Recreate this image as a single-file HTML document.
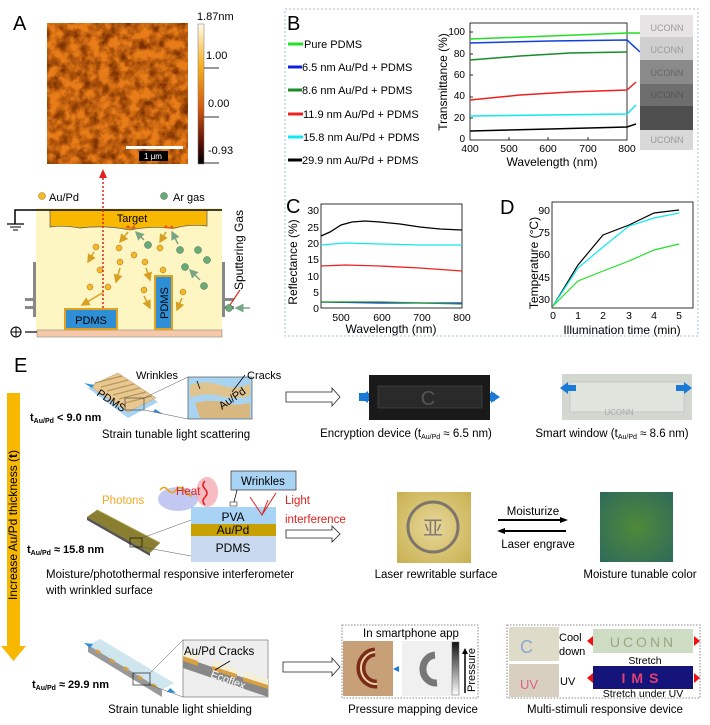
<!DOCTYPE html>
<html><head><meta charset="utf-8"><style>
html,body{margin:0;padding:0;background:#fff}
svg{display:block;font-family:"Liberation Sans",Arial,sans-serif}
</style></head><body>
<svg width="710" height="725" viewBox="0 0 710 725" xmlns="http://www.w3.org/2000/svg">
<defs>
<filter id="afm" x="0" y="0" width="100%" height="100%">
<feTurbulence type="fractalNoise" baseFrequency="0.1" numOctaves="3" seed="4"/>
<feColorMatrix type="matrix" values="0 0 0 0 0.2  0 0 0 0 0.03  0 0 0 0 0  2.2 0 0 0 -0.75"/>
</filter>
<linearGradient id="cb" x1="0" y1="0" x2="0" y2="1">
<stop offset="0" stop-color="#fffbe8"/><stop offset="0.3" stop-color="#f7b020"/><stop offset="0.6" stop-color="#d25a10"/><stop offset="0.85" stop-color="#5a1005"/><stop offset="1" stop-color="#000"/></linearGradient>
<linearGradient id="pb" x1="0" y1="0" x2="0" y2="1"><stop offset="0" stop-color="#111"/><stop offset="1" stop-color="#fff"/></linearGradient>
<radialGradient id="mo" cx="0.5" cy="0.5" r="0.7"><stop offset="0" stop-color="#4f8a3a"/><stop offset="1" stop-color="#2f6a5a"/></radialGradient>
<radialGradient id="lz" cx="0.5" cy="0.5" r="0.7"><stop offset="0" stop-color="#e8d79a"/><stop offset="1" stop-color="#c8b050"/></radialGradient>
<marker id="ah" markerWidth="6" markerHeight="6" refX="5" refY="3" orient="auto"><path d="M0,0L6,3L0,6z" fill="context-stroke"/></marker>
</defs>

<!-- Panel A -->
<text x="13" y="30" font-size="20">A</text>
<rect x="47" y="23" width="141" height="141" fill="#e87c18"/>
<rect x="47" y="23" width="141" height="141" filter="url(#afm)"/>
<rect x="126" y="146" width="57" height="3" fill="#fff"/>
<rect x="139" y="151" width="29" height="10" fill="#000"/>
<text x="153" y="159" font-size="8" fill="#fff" text-anchor="middle">1 μm</text>
<rect x="198" y="24" width="6" height="140" fill="url(#cb)" stroke="#777" stroke-width="0.5"/>
<g stroke="#333" stroke-width="1"><line x1="204" y1="68" x2="219" y2="68"/><line x1="204" y1="117" x2="219" y2="117"/><line x1="204" y1="163" x2="219" y2="163"/></g>
<text x="197" y="20" font-size="11">1.87nm</text>
<text x="206" y="59" font-size="11">1.00</text>
<text x="208" y="107" font-size="11">0.00</text>
<text x="208" y="154" font-size="11">-0.93</text>

<!-- Sputter -->
<rect x="36" y="208" width="186" height="122" fill="#fdf5c2"/>
<rect x="37" y="330" width="185" height="7" fill="#f7c8a8" stroke="#777" stroke-width="0.5"/>
<path d="M50,210H207V226Q190,224 175,228Q150,226 130,230Q105,225 80,228Q62,225 50,227Z" fill="#f9b800" stroke="#555" stroke-width="0.7"/>
<text x="132" y="222" font-size="11" text-anchor="middle">Target</text>
<polyline points="15,224 15,210 222,210" fill="none" stroke="#000" stroke-width="1.5"/>
<line x1="7" y1="224" x2="24" y2="224" stroke="#000" stroke-width="1.2"/><line x1="10" y1="227" x2="21" y2="227" stroke="#000"/><line x1="13" y1="230" x2="18" y2="230" stroke="#000"/>
<line x1="25" y1="332" x2="37" y2="332" stroke="#000" stroke-width="1.2"/>
<circle cx="16" cy="332" r="5" fill="#fff" stroke="#000"/><path d="M11,332h10M16,327v10" stroke="#000"/>
<g fill="#888"><rect x="33" y="262" width="3" height="55"/><rect x="222" y="262" width="3" height="55"/><rect x="25" y="298" width="10" height="3"/><rect x="25" y="306" width="10" height="3"/><rect x="222" y="298" width="12" height="3"/><rect x="222" y="306" width="12" height="3"/></g>
<circle cx="42" cy="196" r="3.5" fill="#f5b82a" stroke="#a07010" stroke-width="0.5"/><text x="49" y="201" font-size="11">Au/Pd</text>
<circle cx="164" cy="196" r="3.5" fill="#6aaa7a" stroke="#3a6a4a" stroke-width="0.5"/><text x="173" y="201" font-size="11">Ar gas</text>
<g fill="#f5b82a" stroke="#a07010" stroke-width="0.5">
<circle cx="96" cy="247" r="3"/><circle cx="119" cy="248" r="3"/><circle cx="134" cy="255" r="3"/><circle cx="160" cy="248" r="3"/><circle cx="100" cy="270" r="3"/><circle cx="120" cy="262" r="3"/><circle cx="145" cy="262" r="3"/><circle cx="163" cy="270" r="3"/><circle cx="90" cy="287" r="3"/><circle cx="108" cy="287" r="3"/><circle cx="144" cy="290" r="3"/><circle cx="183" cy="292" r="3"/></g>
<g fill="#6aaa7a" stroke="#3a6a4a" stroke-width="0.5">
<circle cx="148" cy="245" r="3.5"/><circle cx="180" cy="250" r="3.5"/><circle cx="198" cy="250" r="3.5"/><circle cx="185" cy="267" r="3.5"/><circle cx="207" cy="260" r="3.5"/><circle cx="204" cy="286" r="3.5"/><circle cx="229" cy="308" r="3.5"/></g>
<g stroke="#d8a020" stroke-width="1.5" marker-end="url(#ah)"><line x1="128" y1="232" x2="120" y2="242"/><line x1="166" y1="232" x2="160" y2="242"/><line x1="94" y1="252" x2="88" y2="262"/><line x1="120" y1="268" x2="116" y2="282"/><line x1="104" y1="292" x2="82" y2="305"/><line x1="146" y1="268" x2="150" y2="280"/><line x1="144" y1="296" x2="150" y2="308"/><line x1="182" y1="298" x2="177" y2="310"/></g>
<g stroke="#7aa585" stroke-width="1.5" marker-end="url(#ah)"><line x1="144" y1="240" x2="136" y2="232"/><line x1="178" y1="244" x2="172" y2="232"/><line x1="200" y1="280" x2="190" y2="270"/><line x1="250" y1="308" x2="236" y2="308"/></g>
<g fill="#e05a20"><path d="M125,228l3,-3 3,3 3,-3 2,4z"/><path d="M163,228l3,-3 3,3 3,-3 2,4z"/></g>
<rect x="65" y="309" width="52" height="20" fill="#2e8fd6" stroke="#e0a020" stroke-width="2"/>
<text x="91" y="324" font-size="11" text-anchor="middle">PDMS</text>
<rect x="155" y="276" width="17" height="53" fill="#2e8fd6" stroke="#e0a020" stroke-width="2"/>
<text transform="translate(168,303) rotate(-90)" font-size="11" text-anchor="middle">PDMS</text>
<line x1="103" y1="308" x2="103" y2="176" stroke="#e02020" stroke-width="1.5" stroke-dasharray="2,2"/>
<path d="M99,178L103,169L107,178z" fill="#e02020"/>
<text transform="translate(243,250) rotate(-90)" font-size="12" text-anchor="middle">Sputtering Gas</text>
<line x1="240" y1="290" x2="230" y2="305" stroke="#e03020" stroke-width="1.2"/>

<!-- Panel B/C/D border -->
<rect x="285" y="9" width="413" height="327" fill="none" stroke="#8ab0d0" stroke-width="0.8" stroke-dasharray="2,2"/>
<text x="287" y="30" font-size="20">B</text>
<g stroke-width="3" font-size="11">
<line x1="288" y1="44" x2="303" y2="44" stroke="#22e022"/><text x="304" y="48">Pure PDMS</text>
<line x1="288" y1="67" x2="302" y2="67" stroke="#1020e0"/><text x="302" y="71">6.5 nm Au/Pd + PDMS</text>
<line x1="288" y1="90" x2="302" y2="90" stroke="#1a8a2a"/><text x="302" y="94">8.6 nm Au/Pd + PDMS</text>
<line x1="288" y1="114" x2="303" y2="114" stroke="#f02020"/><text x="303" y="118">11.9 nm Au/Pd + PDMS</text>
<line x1="288" y1="137" x2="303" y2="137" stroke="#10e8f0"/><text x="303" y="141">15.8 nm Au/Pd + PDMS</text>
<line x1="288" y1="160" x2="302" y2="160" stroke="#000"/><text x="302" y="164">29.9 nm Au/Pd + PDMS</text>
</g>
<!-- B plot -->
<rect x="470" y="23" width="157" height="117" fill="none" stroke="#000" stroke-width="0.8"/>
<g font-size="10" text-anchor="end">
<text x="465" y="142">0</text><text x="465" y="121">20</text><text x="465" y="99">40</text><text x="465" y="78">60</text><text x="465" y="57">80</text><text x="465" y="35">100</text></g>
<g stroke="#000" stroke-width="0.8"><line x1="470" y1="118" x2="473" y2="118"/><line x1="470" y1="97" x2="473" y2="97"/><line x1="470" y1="75" x2="473" y2="75"/><line x1="470" y1="54" x2="473" y2="54"/><line x1="470" y1="32" x2="473" y2="32"/>
<line x1="509" y1="140" x2="509" y2="137"/><line x1="548" y1="140" x2="548" y2="137"/><line x1="588" y1="140" x2="588" y2="137"/></g>
<g font-size="10.5" text-anchor="middle"><text x="470" y="152">400</text><text x="509" y="152">500</text><text x="548" y="152">600</text><text x="588" y="152">700</text><text x="627" y="152">800</text></g>
<text x="552" y="166" font-size="12" text-anchor="middle">Wavelength (nm)</text>
<text transform="translate(447,82) rotate(-90)" font-size="12" text-anchor="middle">Transmittance (%)</text>
<g fill="none" stroke-width="1.5">
<polyline points="470,39 550,36 627,33 640,33" stroke="#22e022"/>
<polyline points="470,43 550,41 627,40 640,52" stroke="#1040e0"/>
<polyline points="470,60 520,56 570,53 627,52" stroke="#1a8a2a"/>
<polyline points="470,100 520,95 570,92 627,90 636,82" stroke="#f02020"/>
<polyline points="470,116 627,114 636,105" stroke="#10e8f0"/>
<polyline points="470,131 550,129 627,127 636,124" stroke="#000"/>
</g>
<rect x="640" y="15" width="53" height="22" fill="#e8e4e6"/><rect x="640" y="37" width="53" height="23" fill="#cfcfcf"/><rect x="640" y="60" width="53" height="24" fill="#8a8a8a"/><rect x="640" y="84" width="53" height="22" fill="#6e6e6e"/><rect x="640" y="106" width="53" height="24" fill="#4e4e4e"/><rect x="640" y="130" width="53" height="20" fill="#d8d8d8"/>
<g font-size="9" fill="#999" text-anchor="middle"><text x="667" y="31">UCONN</text><text x="667" y="53">UCONN</text><text x="667" y="76" fill="#666">UCONN</text><text x="667" y="98" fill="#555">UCONN</text><text x="667" y="143">UCONN</text></g>

<!-- C -->
<text x="286" y="213" font-size="20">C</text>
<rect x="321" y="204" width="141" height="104" fill="none" stroke="#000" stroke-width="0.8"/>
<g font-size="10.5" text-anchor="end"><text x="319" y="312">0</text><text x="319" y="296">5</text><text x="319" y="280">10</text><text x="319" y="263">15</text><text x="319" y="247">20</text><text x="319" y="231">25</text><text x="319" y="214">30</text></g>
<g font-size="10.5" text-anchor="middle"><text x="341" y="321">500</text><text x="382" y="321">600</text><text x="422" y="321">700</text><text x="462" y="321">800</text></g>
<text x="391" y="333" font-size="12" text-anchor="middle">Wavelength (nm)</text>
<text transform="translate(297,262) rotate(-90)" font-size="12" text-anchor="middle">Reflectance (%)</text>
<g fill="none" stroke-width="1.3">
<polyline points="321,236 330,232 341,225 352,222 365,221 380,222 400,224 420,227 440,229 462,230" stroke="#000"/>
<polyline points="321,245 345,243 380,244 420,245 462,245" stroke="#10e8f0"/>
<polyline points="321,266 345,265 380,266 420,268 462,271" stroke="#f02020"/>
<polyline points="321,302 380,303 462,303" stroke="#1020e0"/>
<polyline points="321,302 380,302 462,304" stroke="#1a9a2a"/>
</g>

<!-- D -->
<text x="500" y="214" font-size="20">D</text>
<rect x="552" y="202" width="141" height="106" fill="none" stroke="#000" stroke-width="0.8"/>
<g font-size="10.5" text-anchor="end"><text x="550" y="303">30</text><text x="550" y="281">45</text><text x="550" y="258">60</text><text x="550" y="236">75</text><text x="550" y="214">90</text></g>
<g font-size="10.5" text-anchor="middle"><text x="553" y="319">0</text><text x="578" y="319">1</text><text x="603" y="319">2</text><text x="629" y="319">3</text><text x="654" y="319">4</text><text x="679" y="319">5</text></g>
<text x="622" y="334" font-size="12" text-anchor="middle">Illumination time (min)</text>
<text transform="translate(538,263) rotate(-90)" font-size="12" text-anchor="middle">Temperature (°C)</text>
<g fill="none" stroke-width="1.2">
<polyline points="553,306 578,265 603,235 629,225 654,213 679,210" stroke="#000"/>
<polyline points="553,306 578,268 603,247 629,226 654,218 679,213" stroke="#10e8f0"/>
<polyline points="553,306 578,281 603,271 629,261 654,250 679,244" stroke="#22e022"/>
</g>

<!-- Panel E -->
<text x="14" y="372" font-size="20">E</text>
<rect x="7" y="393" width="13" height="254" fill="#f9b800"/>
<path d="M1,646L26,646L13.5,661z" fill="#f9b800"/>
<text transform="translate(17,525) rotate(-90)" font-size="12" text-anchor="middle">Increase Au/Pd thickness (<tspan font-weight="bold">t</tspan>)</text>

<!-- row1 -->
<path d="M88,388L118,375L158,402L128,418Z" fill="#a8d4f2"/>
<path d="M90,386L118,373L156,398L128,412Z" fill="#e8c890" stroke="#b89a6a" stroke-width="0.5"/>
<g stroke="#b8965a" stroke-width="1.2"><line x1="95" y1="383" x2="122" y2="376"/><line x1="101" y1="387" x2="128" y2="380"/><line x1="107" y1="391" x2="134" y2="384"/><line x1="113" y1="395" x2="140" y2="388"/><line x1="119" y1="399" x2="146" y2="392"/><line x1="125" y1="403" x2="152" y2="396"/></g>
<text transform="translate(96,395) rotate(33)" font-size="11">PDMS</text>
<path d="M84,383l10,2-2,3z" fill="#2e8fd6"/><path d="M163,414l-10,-2 2,-3z" fill="#2e8fd6"/>
<rect x="125" y="398" width="19" height="12" fill="none" stroke="#333" stroke-width="0.6"/>
<line x1="144" y1="398" x2="188" y2="377" stroke="#555" stroke-width="0.5"/><line x1="144" y1="410" x2="188" y2="419" stroke="#555" stroke-width="0.5"/>
<rect x="188" y="377" width="64" height="42" fill="#a8d4f2" stroke="#555" stroke-width="0.7"/>
<path d="M190,385Q205,380 220,385Q235,390 250,384V396Q235,400 220,396Q205,392 190,398Z" fill="#e0c490"/>
<path d="M195,403Q215,398 235,405L250,403V418H200Z" fill="#d8b880"/>
<text transform="translate(222,410) rotate(-35)" font-size="11">Au/Pd</text>
<text x="136" y="379" font-size="11">Wrinkles</text><text x="247" y="379" font-size="11">Cracks</text>
<line x1="197" y1="381" x2="200" y2="389" stroke="#000" stroke-width="0.8"/><line x1="245" y1="375" x2="232" y2="392" stroke="#000" stroke-width="0.8"/>
<text x="30" y="421" font-size="11" font-weight="bold">t<tspan font-size="7" dy="2">Au/Pd</tspan><tspan dy="-2"> &lt; 9.0 nm</tspan></text>
<text x="176" y="438" font-size="11.5" text-anchor="middle">Strain tunable light scattering</text>
<path d="M286,392H332V388L340,397L332,406V402H286Z" fill="#fff" stroke="#222" stroke-width="0.8"/>
<rect x="369" y="375" width="121" height="45" fill="#1a1a1a"/>
<rect x="378" y="386" width="104" height="22" fill="#2a2a2a" stroke="#555" stroke-width="0.5"/>
<text x="428" y="405" font-size="20" fill="#555" text-anchor="middle">C</text>
<path d="M359,397l9,-6v12z" fill="#1a7ad8"/><path d="M500,397l-9,-6v12z" fill="#1a7ad8"/>
<rect x="359" y="393" width="10" height="8" fill="#1a7ad8"/><rect x="490" y="393" width="5" height="8" fill="#1a7ad8"/>
<text x="406" y="437" font-size="11.5" text-anchor="middle">Encryption device (t<tspan font-size="7" dy="2">Au/Pd</tspan><tspan dy="-2"> ≈ 6.5 nm)</tspan></text>
<rect x="562" y="374" width="130" height="46" fill="#d2d7d0"/>
<rect x="570" y="382" width="114" height="30" fill="#dfe4dc" stroke="#bbb" stroke-width="0.6"/>
<text x="619" y="415" font-size="8" fill="#aaa" text-anchor="middle">UCONN</text>
<path d="M560,388l8,-6v12z" fill="#1a7ad8"/><rect x="567" y="385" width="9" height="6" fill="#1a7ad8"/>
<path d="M692,388l-8,-6v12z" fill="#1a7ad8"/><rect x="676" y="385" width="9" height="6" fill="#1a7ad8"/>
<text x="612" y="437" font-size="11.5" text-anchor="middle">Smart window (t<tspan font-size="7" dy="2">Au/Pd</tspan><tspan dy="-2"> ≈ 8.6 nm)</tspan></text>

<!-- row2 -->
<path d="M87,517L97,510L160,543L150,553Z" fill="#8a7e30"/><path d="M87,517L150,553L150,556L87,520Z" fill="#555"/>
<path d="M97,510L160,543" stroke="#a89a40"/>
<rect x="130" y="538" width="12" height="9" fill="none" stroke="#000" stroke-width="0.6"/>
<line x1="142" y1="538" x2="191" y2="520" stroke="#555" stroke-width="0.5"/><line x1="142" y1="547" x2="191" y2="556" stroke="#555" stroke-width="0.5"/>
<rect x="191" y="507" width="85" height="17" fill="#a9d3f5"/>
<rect x="191" y="524" width="85" height="12" fill="#c8a000"/>
<rect x="191" y="536" width="85" height="26" fill="#c9daf0"/>
<text x="233" y="521" font-size="12" text-anchor="middle">PVA</text>
<text x="233" y="534" font-size="12" text-anchor="middle">Au/Pd</text>
<text x="233" y="552" font-size="12" text-anchor="middle">PDMS</text>
<ellipse cx="178" cy="499" rx="20" ry="12" fill="#aab0ee" opacity="0.7"/>
<ellipse cx="207" cy="492" rx="11" ry="15" fill="#f4a0a8" opacity="0.7"/>
<path d="M160,490q4,-5 8,0t8,0t8,0t8,6" fill="none" stroke="#f0a000" stroke-width="1.5"/>
<path d="M205,505q-4,-4 0,-8t0,-8t0,-8" fill="none" stroke="#e02020" stroke-width="1.5"/>
<text x="102" y="504" font-size="11.5" fill="#f5a623">Photons</text>
<text x="176" y="495" font-size="11.5" fill="#e02020">Heat</text>
<rect x="231" y="471" width="65" height="19" fill="#a9d3f5" stroke="#333" stroke-width="0.7"/>
<text x="263" y="485" font-size="11.5" text-anchor="middle">Wrinkles</text>
<line x1="237" y1="490" x2="234" y2="502" stroke="#000" stroke-width="0.7"/><rect x="230" y="502" width="7" height="4" fill="#fff" stroke="#000" stroke-width="0.5"/>
<path d="M250,497L262,515L276,493M262,515L268,500" fill="none" stroke="#e02020" stroke-width="1"/>
<text x="285" y="504" font-size="11.5" fill="#e02020">Light</text>
<text x="285" y="523" font-size="11.5" fill="#e02020">interference</text>
<text x="27" y="553" font-size="11" font-weight="bold">t<tspan font-size="7" dy="2">Au/Pd</tspan><tspan dy="-2"> ≈ 15.8 nm</tspan></text>
<text x="46" y="578" font-size="11.5">Moisture/photothermal responsive interferometer</text>
<text x="46" y="594" font-size="11.5">with wrinkled surface</text>
<path d="M286,530H332V526L340,534L332,542V538H286Z" fill="#fff" stroke="#222" stroke-width="0.8"/>
<rect x="397" y="492" width="74" height="71" fill="url(#lz)"/>
<circle cx="433" cy="527" r="25" fill="none" stroke="#556" stroke-width="3" opacity="0.7"/>
<text x="433" y="535" font-size="20" fill="#556" text-anchor="middle" opacity="0.7">亚</text>
<text x="436" y="578" font-size="11.5" text-anchor="middle">Laser rewritable surface</text>
<text x="533" y="515" font-size="11.5" text-anchor="middle">Moisturize</text>
<line x1="498" y1="520" x2="562" y2="520" stroke="#000" stroke-width="2"/><path d="M568,520l-8,-3v6z"/>
<line x1="504" y1="531" x2="566" y2="531" stroke="#000" stroke-width="2"/><path d="M497,531l8,-3v6z"/>
<text x="538" y="548" font-size="11.5" text-anchor="middle">Laser engrave</text>
<rect x="600" y="492" width="73" height="70" fill="url(#mo)"/>
<text x="640" y="578" font-size="11.5" text-anchor="middle">Moisture tunable color</text>

<!-- row3 -->
<path d="M88,645L100,639L174,683L162,690Z" fill="#cfe6ee"/><path d="M88,645L162,690L162,697L88,652Z" fill="#999"/>
<g fill="#d8a040"><rect x="96" y="650" width="5" height="3" transform="rotate(31 98 651)"/><rect x="110" y="659" width="5" height="3" transform="rotate(31 112 660)"/><rect x="124" y="667" width="5" height="3" transform="rotate(31 126 668)"/><rect x="138" y="676" width="5" height="3" transform="rotate(31 140 677)"/><rect x="152" y="684" width="5" height="3" transform="rotate(31 154 685)"/></g>
<path d="M84,643l9,1-3,4z" fill="#2e8fd6"/><path d="M176,693l-9,-1 3,-4z" fill="#2e8fd6"/>
<rect x="133" y="673" width="17" height="12" fill="none" stroke="#000" stroke-width="0.6"/>
<line x1="150" y1="673" x2="183" y2="640" stroke="#555" stroke-width="0.5"/><line x1="150" y1="685" x2="183" y2="697" stroke="#555" stroke-width="0.5"/>
<rect x="183" y="640" width="85" height="57" fill="#eee" stroke="#777" stroke-width="0.7"/>
<path d="M183,668L268,697V686L183,657Z" fill="#888"/>
<path d="M183,656l15,5v5l-15,-5z" fill="#d8a040"/><path d="M212,666l25,8v4l-25,-8z" fill="#d8a040"/><path d="M243,677l25,8v4l-25,-8z" fill="#d8a040"/>
<path d="M183,650l15,5v6l-15,-5zM212,660l25,8v6l-25,-8zM243,671l25,8v6l-25,-8z" fill="#f3efd6"/>
<text transform="translate(210,677) rotate(20)" font-size="11" fill="#fff">Ecoflex</text>
<text x="184" y="655" font-size="11.5">Au/Pd Cracks</text>
<line x1="230" y1="661" x2="215" y2="670" stroke="#000" stroke-width="0.8"/>
<text x="32" y="688" font-size="11" font-weight="bold">t<tspan font-size="7" dy="2">Au/Pd</tspan><tspan dy="-2"> ≈ 29.9 nm</tspan></text>
<text x="180" y="713" font-size="11.5" text-anchor="middle">Strain tunable light shielding</text>
<path d="M283,662H332V658L340,667L332,676V672H283Z" fill="#fff" stroke="#222" stroke-width="0.8"/>
<rect x="342" y="625" width="136" height="73" fill="none" stroke="#666" stroke-width="0.8" stroke-dasharray="1.5,1.5"/>
<text x="411" y="637" font-size="11.5" text-anchor="middle">In smartphone app</text>
<rect x="343" y="641" width="50" height="55" fill="#c8a078"/>
<path d="M375,652a15,16 0 1 0 2,32" fill="none" stroke="#7a2a18" stroke-width="9"/>
<path d="M375,652a15,16 0 1 0 2,32" fill="none" stroke="#f0d0a0" stroke-width="2"/>
<path d="M393,669l6,-3v6z" fill="#1a7ad8"/>
<rect x="402" y="641" width="50" height="55" fill="#f0f0f0"/>
<path d="M435,655a13,14 0 1 0 2,28" fill="none" stroke="#777" stroke-width="7"/>
<rect x="452" y="642" width="7" height="53" fill="url(#pb)" stroke="#555" stroke-width="0.5"/>
<line x1="465" y1="693" x2="465" y2="652" stroke="#000" stroke-width="1.5"/><path d="M465,648l-3,6h6z"/>
<text transform="translate(475,670) rotate(-90)" font-size="11" text-anchor="middle">Pressure</text>
<text x="413" y="713" font-size="11.5" text-anchor="middle">Pressure mapping device</text>
<rect x="507" y="625" width="193" height="73" fill="none" stroke="#666" stroke-width="0.8" stroke-dasharray="1.5,1.5"/>
<rect x="509" y="627" width="50" height="34" fill="#dedcc8"/><text x="520" y="653" font-size="18" fill="#8aa8d0">C</text>
<rect x="509" y="664" width="50" height="33" fill="#d8cfc0"/><text x="520" y="689" font-size="13" fill="#e06088">UV</text>
<text x="559" y="641" font-size="11">Cool</text><text x="559" y="655" font-size="11">down</text>
<text x="560" y="685" font-size="11">UV</text>
<rect x="593" y="629" width="100" height="24" fill="#cfdcc4"/><text x="643" y="647" font-size="14" fill="#98a880" text-anchor="middle" letter-spacing="3">UCONN</text>
<text x="645" y="664" font-size="10.5" text-anchor="middle">Stretch</text>
<rect x="593" y="666" width="100" height="23" fill="#14147a"/><text x="643" y="683" font-size="14" fill="#e04070" text-anchor="middle" letter-spacing="6" font-weight="bold">IMS</text>
<text x="643" y="697" font-size="10.5" text-anchor="middle">Stretch under UV</text>
<g fill="#f01010"><path d="M587,641l6,-5v10z"/><path d="M700,641l-6,-5v10z"/><path d="M587,678l6,-5v10z"/><path d="M700,678l-6,-5v10z"/></g>
<text x="605" y="713" font-size="11.5" text-anchor="middle">Multi-stimuli responsive device</text>
</svg>
</body></html>
